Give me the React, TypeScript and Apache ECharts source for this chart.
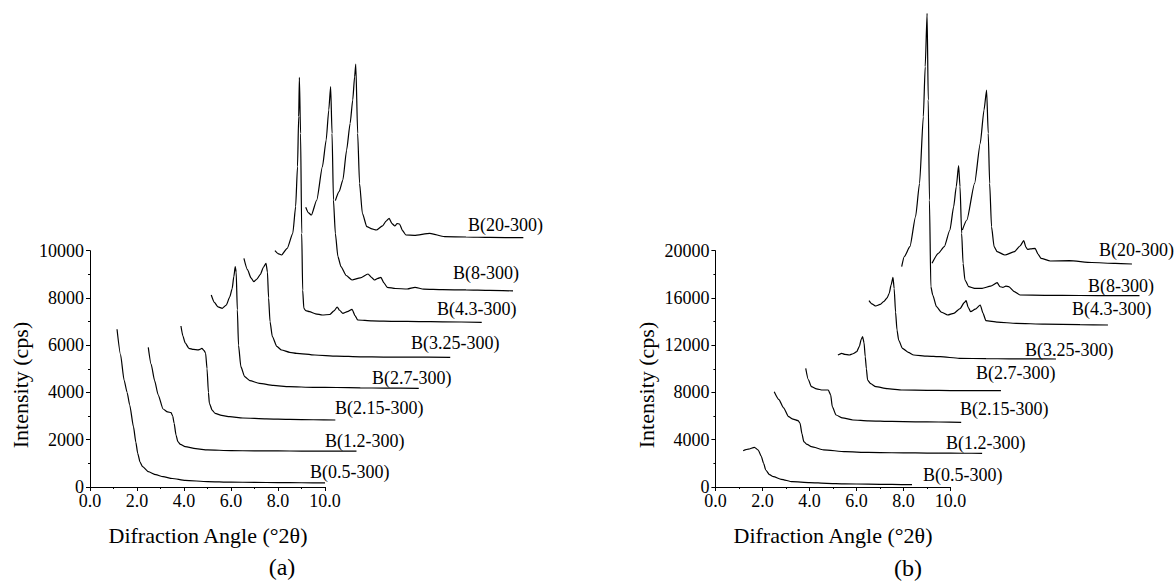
import React, { useEffect, useRef } from 'react';
import * as echarts from 'echarts';

// ---------- data : panel (a) ----------
const sampleNames = ['B(0.5-300)', 'B(1.2-300)', 'B(2.15-300)', 'B(2.7-300)', 'B(3.25-300)', 'B(4.3-300)', 'B(8-300)', 'B(20-300)'];

const a05 = [[1.15,6674],[1.3,5600],[1.45,4528],[1.58,4000],[1.69,3470],[1.85,2552],[1.95,1900],[2.03,1426],[2.13,1050],[2.24,859],[2.48,648],[2.8,520],[3.11,436],[3.5,360],[4.05,280],[5,230],[6,205],[7,195],[8,185],[9,180],[10,175]];
const a12 = [[2.48,5912],[2.6,5200],[2.75,4500],[2.9,3900],[3.11,3300],[3.3,3180],[3.45,3145],[3.52,3000],[3.58,2694],[3.66,2200],[3.74,1918],[3.85,1800],[4.05,1707],[4.5,1620],[5,1570],[6,1540],[7,1530],[8,1525],[9,1520],[10,1520],[11.34,1515]];
const a215 = [[3.87,6813],[3.95,6400],[4.05,6100],[4.21,5869],[4.4,5820],[4.6,5800],[4.69,5830],[4.76,5869],[4.85,5780],[4.92,5658],[4.98,5000],[5.04,4000],[5.08,3542],[5.2,3250],[5.32,3119],[5.6,3030],[5.95,2975],[6.5,2920],[7.5,2880],[8.5,2860],[9.5,2845],[10.44,2835]];
const a27 = [[5.16,8125],[5.3,7800],[5.45,7620],[5.63,7562],[5.8,7700],[5.95,8050],[6.05,8400],[6.12,8900],[6.18,9323],[6.22,9100],[6.27,7500],[6.32,6000],[6.42,5091],[6.58,4668],[6.8,4500],[7.21,4388],[7.8,4300],[8.47,4245],[9.5,4220],[10.5,4210],[11.5,4195],[12.5,4185],[13.99,4177]];
const a325 = [[6.55,9678],[6.7,9200],[6.85,8850],[6.97,8688],[7.1,8800],[7.25,9000],[7.38,9300],[7.49,9466],[7.55,9100],[7.6,8000],[7.66,7000],[7.76,6361],[7.95,5950],[8.15,5798],[8.5,5700],[8.79,5658],[9.57,5586],[10.5,5540],[11.5,5510],[12.5,5500],[13.5,5495],[15.33,5488]];
const a43 = [[7.87,10000],[8.0,9880],[8.15,9818],[8.39,10101],[8.63,10736],[8.75,11862],[8.83,13555],[8.88,15671],[8.91,17338],[8.96,14968],[9.01,10736],[9.05,8337],[9.1,7562],[9.18,7464],[9.34,7420],[9.6,7330],[9.89,7279],[10.2,7300],[10.38,7450],[10.52,7618],[10.62,7480],[10.76,7350],[10.95,7420],[11.15,7520],[11.28,7250],[11.39,7067],[12,7030],[13,7010],[14,7000],[15,6990],[16.67,6970]];
const a8 = [[9.18,11837],[9.3,11600],[9.42,11511],[9.65,12146],[9.89,13555],[10.05,14685],[10.16,15954],[10.24,16942],[10.3,14968],[10.36,12146],[10.44,10736],[10.55,9747],[10.68,9323],[10.9,8950],[11.15,8760],[11.5,8850],[11.83,9014],[12.0,8850],[12.1,8760],[12.25,8830],[12.38,8874],[12.5,8650],[12.65,8451],[13.0,8400],[13.5,8380],[13.83,8450],[14.2,8370],[15,8350],[16,8340],[17,8320],[18.0,8300]];
const a20 = [[10.44,12118],[10.6,12500],[10.76,12992],[10.92,14262],[11.07,15391],[11.18,16377],[11.26,17364],[11.31,17901],[11.39,14968],[11.47,12852],[11.59,11583],[11.78,11016],[12.0,10920],[12.18,10876],[12.45,11050],[12.6,11250],[12.73,11371],[12.85,11150],[12.97,11045],[13.07,11150],[13.17,11130],[13.3,10850],[13.44,10664],[13.8,10650],[14.46,10736],[15.09,10594],[16,10580],[17,10560],[18.44,10550]];

// ---------- data : panel (b) ----------
const b05 = [[1.18,3073],[1.4,3200],[1.66,3360],[1.82,3132],[1.95,2600],[2.05,2000],[2.14,1439],[2.3,1050],[2.47,874],[2.8,650],[3.27,449],[4,370],[4.73,313],[5.5,270],[6.5,240],[7.5,215],[8.36,198]];
const b12 = [[2.5,8066],[2.7,7400],[2.9,6700],[3.11,5950],[3.3,5750],[3.52,5612],[3.6,5391],[3.68,4500],[3.76,3834],[3.9,3600],[4.08,3411],[4.6,3150],[5.53,2988],[6.5,2930],[7.5,2900],[8.5,2880],[9.5,2865],[10.5,2858],[11.34,2852]];
const b215 = [[3.84,10046],[3.95,9100],[4.08,8489],[4.3,8300],[4.56,8210],[4.8,8210],[4.9,7800],[4.97,6796],[5.13,6094],[5.4,5850],[5.85,5671],[6.5,5600],[7.5,5550],[8.5,5520],[9.5,5500],[10.45,5476]];
const b27 = [[5.21,11172],[5.37,11314],[5.5,11230],[5.69,11172],[5.85,11280],[6.01,11452],[6.12,11900],[6.2,12500],[6.26,12721],[6.32,12200],[6.37,11028],[6.42,10000],[6.47,9056],[6.6,8750],[6.82,8489],[7.3,8330],[7.95,8210],[9,8180],[10,8165],[11,8158],[12.14,8151]];
const b325 = [[6.53,15768],[6.65,15500],[6.82,15319],[7,15450],[7.15,15684],[7.3,16000],[7.39,16394],[7.47,17100],[7.55,17748],[7.6,16800],[7.66,14800],[7.72,13300],[7.79,12442],[7.95,11739],[8.2,11400],[8.43,11172],[9,11080],[9.56,11028],[10.37,10893],[11.5,10860],[12.5,10850],[13.5,10840],[14.48,10834]];
const b43 = [[7.92,18646],[8.03,19492],[8.27,20338],[8.51,22878],[8.68,25705],[8.84,31342],[8.92,35575],[9.0,40093],[9.05,32755],[9.1,24291],[9.16,16953],[9.24,16250],[9.4,15261],[9.6,14800],[9.88,14558],[10.13,14702],[10.4,15100],[10.58,15600],[10.66,15768],[10.75,15200],[10.85,14837],[11.05,15050],[11.26,15404],[11.38,14700],[11.5,14075],[12,13950],[12.79,13855],[14,13780],[15.5,13740],[16.69,13711]];
const b8 = [[9.21,18930],[9.48,19780],[9.73,20338],[9.97,21752],[10.13,23724],[10.24,25418],[10.34,27195],[10.4,25418],[10.47,21473],[10.53,18930],[10.61,17520],[10.77,16953],[11.02,16817],[11.34,16817],[11.7,17000],[11.98,17292],[12.1,16950],[12.22,16902],[12.35,17000],[12.47,16953],[12.71,16530],[12.95,16250],[14,16220],[15.5,16210],[17,16200],[18.03,16194]];
const b20 = [[10.5,21752],[10.69,22598],[11.02,25705],[11.26,29090],[11.42,31909],[11.53,33601],[11.6,29937],[11.66,25705],[11.74,22032],[11.85,20338],[11.98,19915],[12.31,19636],[12.71,19915],[12.95,20400],[13.11,20846],[13.2,20300],[13.27,20118],[13.4,20150],[13.59,20203],[13.72,19700],[13.84,19356],[14.24,19128],[15.05,19153],[16,19000],[17,18920],[17.71,18875]];

const panelASeries = [a05, a12, a215, a27, a325, a43, a8, a20];
const panelBSeries = [b05, b12, b215, b27, b325, b43, b8, b20];

// label anchor points (left x, middle y) in pixels
const panelALabelPos = [[310,472],[325,441],[335,408],[372,378],[411,343],[437,309],[453,273],[468,225]];
const panelBLabelPos = [[923,475],[946,443],[960,409],[976,373],[1025,350],[1072,309],[1088,286],[1099,250]];

const FONT = 'Liberation Serif';

function visibleAxes(gridIndex: number, yMax: number, yInterval: number) {
  const common = {
    gridIndex,
    axisLine: { show: true, lineStyle: { color: '#000', width: 1 } },
    axisTick: { show: true, inside: false, length: 4, lineStyle: { color: '#000' } },
    minorTick: { show: true, splitNumber: 2, length: 2, lineStyle: { color: '#000' } },
    splitLine: { show: false },
    minorSplitLine: { show: false },
  };
  return {
    x: {
      ...common,
      type: 'value', min: 0, max: 10, interval: 2,
      axisLabel: { color: '#000', fontFamily: FONT, fontSize: 18, margin: 5, formatter: (v: number) => v.toFixed(1) },
    },
    y: {
      ...common,
      type: 'value', min: 0, max: yMax, interval: yInterval,
      axisLabel: { color: '#000', fontFamily: FONT, fontSize: 18, margin: 6, formatter: (v: number) => String(v) },
    },
  };
}

function hiddenAxis(gridIndex: number, max: number) {
  return { type: 'value', gridIndex, min: 0, max, show: false, splitLine: { show: false } };
}

export default function App() {
  const ref = useRef<HTMLDivElement>(null);
  useEffect(() => {
    if (!ref.current) return;
    const chart = echarts.init(ref.current, null, { renderer: 'svg', width: 1174, height: 582 });
    const va = visibleAxes(0, 10000, 2000);
    const vb = visibleAxes(2, 20000, 4000);
    const mkSeries = (arr: number[][][], xi: number) => arr.map((d, i) => ({
      type: 'line', name: sampleNames[i] + (xi === 1 ? ' a' : ' b'), data: d,
      xAxisIndex: xi, yAxisIndex: xi, showSymbol: false, symbol: 'none', clip: false,
      smooth: 0.2, smoothMonotone: 'x',
      lineStyle: { color: '#000', width: 1.2 }, silent: true,
    }));
    const txt = (text: string, x: number, y: number, size: number, align: string, extra: any = {}) => ({
      type: 'text', x, y, ...extra,
      style: { text, fontFamily: FONT, fontSize: size, fill: '#000', textAlign: align, textVerticalAlign: 'middle' },
    });
    const mkLabels = (pos: number[][]) => pos.map((p, i) => txt(sampleNames[i], p[0], p[1], 18, 'left'));
    const option: any = {
      animation: false,
      backgroundColor: '#fff',
      grid: [
        { left: 90, top: 250.7, width: 235, height: 236.3, outerBoundsMode: 'none' },
        { left: 90, top: 14.4, width: 470, height: 472.6, outerBoundsMode: 'none' },
        { left: 715.4, top: 250.7, width: 235.2, height: 236.3, outerBoundsMode: 'none' },
        { left: 715.4, top: 2.6, width: 446.9, height: 484.4, outerBoundsMode: 'none' },
      ],
      xAxis: [va.x, hiddenAxis(1, 20), vb.x, hiddenAxis(3, 19)],
      yAxis: [va.y, hiddenAxis(1, 20000), vb.y, hiddenAxis(3, 41000)],
      series: [...mkSeries(panelASeries, 1), ...mkSeries(panelBSeries, 3)],
      graphic: [
        ...mkLabels(panelALabelPos),
        ...mkLabels(panelBLabelPos),
        txt('Difraction Angle (°2θ)', 208, 535, 22, 'center'),
        txt('Difraction Angle (°2θ)', 833, 535, 22, 'center'),
        txt('Intensity (cps)', 20, 385, 22, 'center', { rotation: Math.PI / 2 }),
        txt('Intensity (cps)', 646, 385, 22, 'center', { rotation: Math.PI / 2 }),
        txt('(a)', 282, 567, 24, 'center'),
        txt('(b)', 908, 568, 24, 'center'),
      ],
    };
    chart.setOption(option);
    return () => chart.dispose();
  }, []);
  return <div ref={ref} style={{ position: 'absolute', left: 0, top: 0, width: 1174, height: 582, background: '#fff' }} />;
}
